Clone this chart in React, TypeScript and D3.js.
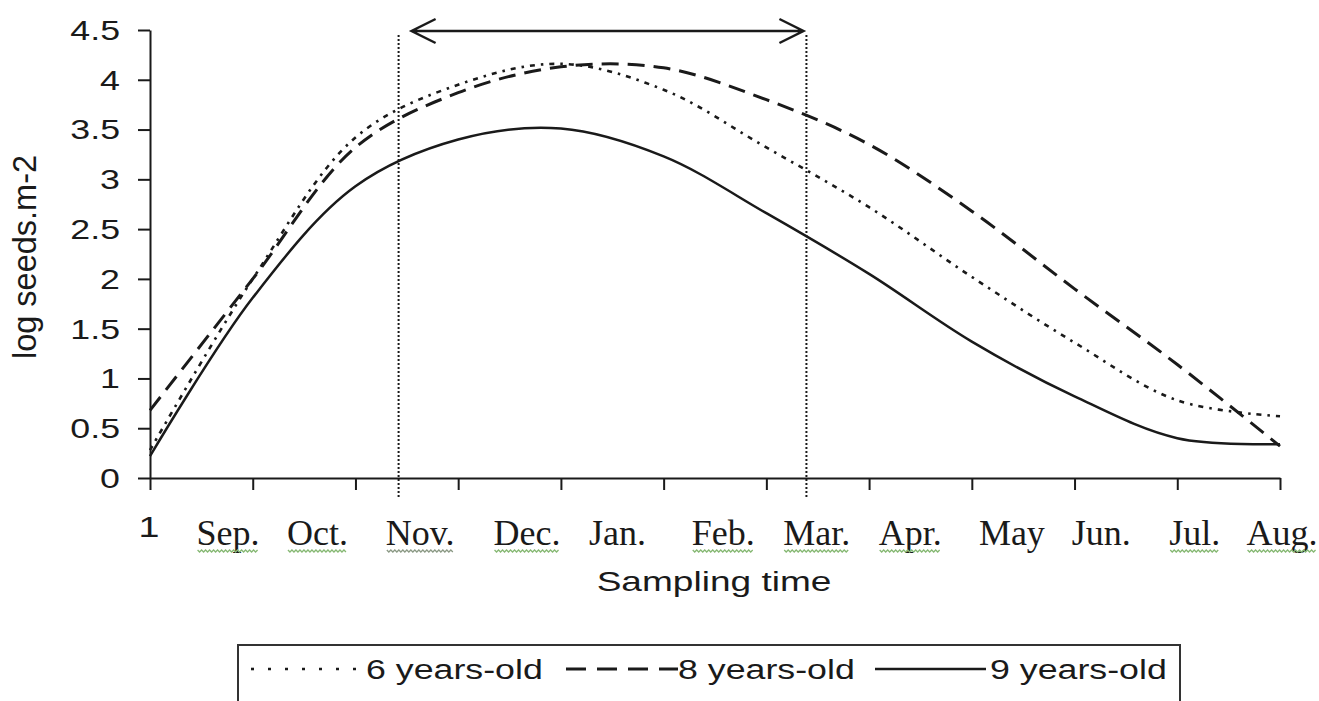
import React, { useEffect, useRef } from 'react';
import * as d3 from 'd3';

// sampling points along the category axis (12 ticks)
const samples = [0, 1, 2, 3, 4, 5, 6, 7, 8, 9, 10, 11];
const sixYearsOld = [0.28, 2.0, 3.42, 3.95, 4.16, 3.9, 3.32, 2.72, 2.02, 1.36, 0.78, 0.62];
const eightYearsOld = [0.68, 2.0, 3.32, 3.87, 4.13, 4.12, 3.8, 3.35, 2.68, 1.9, 1.14, 0.32];
const nineYearsOld = [0.22, 1.81, 2.93, 3.4, 3.51, 3.23, 2.66, 2.05, 1.37, 0.82, 0.4, 0.34];

const yTicks = [0, 0.5, 1, 1.5, 2, 2.5, 3, 3.5, 4, 4.5];
const firstCategory = '1';
// month names were typed over the axis, they do not sit on the ticks
const monthLabels = ['Sep.', 'Oct.', 'Nov.', 'Dec.', 'Jan.', 'Feb.', 'Mar.', 'Apr.', 'May', 'Jun.', 'Jul.', 'Aug.'];
const monthAt = [0.76, 1.63, 2.63, 3.67, 4.55, 5.58, 6.49, 7.4, 8.39, 9.26, 10.17, 11.02];
const spellMarked = ['Sep.', 'Oct.', 'Nov.', 'Dec.', 'Feb.', 'Mar.', 'Apr.', 'Jul.', 'Aug.'];
const period = [2.42, 6.39];

const legendItems = ['6 years-old', '8 years-old', '9 years-old'];

const SANS = '"Liberation Sans", Arial, sans-serif';
const SERIF = '"Liberation Serif", "Times New Roman", serif';
const STRETCH = 1.3;

const App = () => {
  const svgRef = useRef(null);

  useEffect(() => {
    const width = 1319;
    const height = 701;
    const svg = d3.select(svgRef.current);
    svg.selectAll('*').remove();
    svg.attr('width', width).attr('height', height);

    const x = d3.scaleLinear().domain([0, 11]).range([150, 1280]);
    const y = d3.scaleLinear().domain([0, 4.5]).range([478, 30]);

    const ink = '#1a1a1a';

    // axes
    const yAxis = svg.append('g').attr('transform', `translate(${x(0)},0)`)
      .call(d3.axisLeft(y).tickValues(yTicks).tickSize(12).tickSizeOuter(0).tickFormat(() => ''));
    const xAxis = svg.append('g').attr('transform', `translate(0,${y(0)})`)
      .call(d3.axisBottom(x).tickValues(samples).tickSize(12).tickSizeOuter(0).tickFormat(() => ''));
    [yAxis, xAxis].forEach(a => {
      a.select('.domain').attr('stroke', ink).attr('stroke-width', 2);
      a.selectAll('.tick line').attr('stroke', ink).attr('stroke-width', 2);
    });

    // y tick labels (stretched sideways like the source)
    svg.append('g').selectAll('text')
      .data(yTicks)
      .enter().append('text')
      .attr('transform', d => `translate(120,${y(d)}) scale(${STRETCH},1)`)
      .attr('text-anchor', 'end')
      .attr('dy', '0.36em')
      .attr('font-family', SANS)
      .attr('font-size', 27.5)
      .attr('fill', ink)
      .text(d => String(d));

    // y title
    svg.append('text')
      .attr('transform', `translate(36,${257}) rotate(-90)`)
      .attr('text-anchor', 'middle')
      .attr('font-family', SANS)
      .attr('font-size', 32.5)
      .attr('fill', ink)
      .text('log seeds.m-2');

    // period markers
    period.forEach(p => {
      svg.append('line')
        .attr('x1', x(p)).attr('x2', x(p))
        .attr('y1', y(4.45)).attr('y2', y(0) + 20)
        .attr('stroke', ink).attr('stroke-width', 2)
        .attr('stroke-dasharray', '2,2');
    });

    const ax0 = x(period[0]) + 13;
    const ax1 = x(period[1]) - 3;
    const ay = y(4.49);
    svg.append('path')
      .attr('d', `M${ax0},${ay}H${ax1}M${ax0 + 24},${ay - 12}L${ax0},${ay}L${ax0 + 24},${ay + 12}M${ax1 - 24},${ay - 12}L${ax1},${ay}L${ax1 - 24},${ay + 12}`)
      .attr('fill', 'none').attr('stroke', ink).attr('stroke-width', 2.5);

    // series
    const line = d3.line()
      .x((d, i) => x(samples[i]))
      .y(d => y(d))
      .curve(d3.curveCatmullRom);

    const series = [
      { values: sixYearsOld, dash: '5,6,2.5,6', w: 2.6, legendDash: '3,14' },
      { values: eightYearsOld, dash: '17,9', w: 3, legendDash: '20,11' },
      { values: nineYearsOld, dash: null, w: 2.5, legendDash: null },
    ];

    series.forEach(s => {
      svg.append('path')
        .datum(s.values)
        .attr('fill', 'none')
        .attr('stroke', ink)
        .attr('stroke-width', s.w)
        .attr('stroke-dasharray', s.dash)
        .attr('d', line);
    });

    // category label "1" left of the months
    svg.append('text')
      .attr('transform', `translate(${x(0) - 1},537) scale(${STRETCH},1)`)
      .attr('text-anchor', 'middle')
      .attr('font-family', SANS)
      .attr('font-size', 29)
      .attr('fill', ink)
      .text(firstCategory);

    // month labels
    const months = svg.append('g').selectAll('text')
      .data(monthLabels)
      .enter().append('text')
      .attr('x', (d, i) => x(monthAt[i]))
      .attr('y', 545)
      .attr('text-anchor', 'middle')
      .attr('font-family', SERIF)
      .attr('font-size', 36)
      .attr('fill', ink)
      .text(d => d);

    // wavy green underline under some labels
    const wave = d3.line();
    months.each(function (d) {
      if (!spellMarked.includes(d)) return;
      const b = this.getBBox();
      const pts = [];
      for (let px = b.x + 1, k = 0; px <= b.x + b.width - 1; px += 2, k++) {
        pts.push([px, 551 + (k % 2 === 0 ? -1 : 1)]);
      }
      svg.append('path')
        .attr('d', wave(pts))
        .attr('fill', 'none')
        .attr('stroke', d === 'Nov.' ? '#8c9a86' : '#86b873')
        .attr('stroke-width', 1.3);
    });

    // x title
    svg.append('text')
      .attr('transform', `translate(714,591) scale(${STRETCH},1)`)
      .attr('text-anchor', 'middle')
      .attr('font-family', SANS)
      .attr('font-size', 28.5)
      .attr('fill', ink)
      .text('Sampling time');

    // legend
    const legend = svg.append('g');
    legend.append('rect')
      .attr('x', 238).attr('y', 645)
      .attr('width', 942).attr('height', 62)
      .attr('fill', 'white')
      .attr('stroke', '#333').attr('stroke-width', 2);

    const sampleStart = [251, 566, 875];
    const textStart = [366, 678, 990];
    legendItems.forEach((name, i) => {
      legend.append('line')
        .attr('x1', sampleStart[i]).attr('x2', textStart[i] - (i === 2 ? 4 : 0))
        .attr('y1', 669).attr('y2', 669)
        .attr('stroke', ink)
        .attr('stroke-width', series[i].w)
        .attr('stroke-dasharray', series[i].legendDash);
      legend.append('text')
        .attr('transform', `translate(${textStart[i]},679) scale(${STRETCH},1)`)
        .attr('font-family', SANS)
        .attr('font-size', 27.5)
        .attr('fill', ink)
        .text(name);
    });
  }, []);

  return (
    <svg ref={svgRef} style={{ position: 'absolute', left: 0, top: 0, background: 'white' }}></svg>
  );
};

export default App;
